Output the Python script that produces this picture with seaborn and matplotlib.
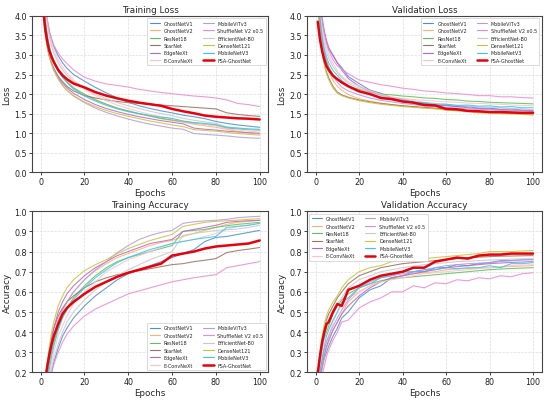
import matplotlib
matplotlib.use("Agg")
import matplotlib.pyplot as plt
import seaborn as sns
import pandas as pd

epochs = [1, 2, 3, 4, 5, 6, 8, 10, 12, 15, 20, 25, 30, 35, 40, 45, 50, 55, 60, 65, 70, 75, 80, 85, 90, 95, 100]

models = ["GhostNetV1", "GhostNetV2", "ResNet18", "StarNet", "EdgeNeXt", "E-ConvNeXt",
          "MobileViTv3", "ShuffleNet V2 x0.5", "EfficientNet-B0", "DenseNet121", "MobileNetV3", "FSA-GhostNet"]

train_loss = {
    "GhostNetV1": [4.8,4.3,3.9,3.6,3.4,3.22,2.98,2.8,2.66,2.5,2.33,2.17,2.03,1.9,1.79,1.7,1.63,1.57,1.52,1.46,1.42,1.37,1.3,1.25,1.21,1.18,1.15],
    "GhostNetV2": [4.6,3.95,3.5,3.2,3.0,2.84,2.62,2.46,2.33,2.17,2.0,1.86,1.74,1.64,1.56,1.49,1.43,1.37,1.32,1.28,1.23,1.19,1.15,1.1,1.04,1.01,0.98],
    "ResNet18": [4.5,3.9,3.45,3.15,2.95,2.8,2.58,2.43,2.3,2.15,1.99,1.85,1.74,1.64,1.57,1.5,1.44,1.38,1.34,1.3,1.26,1.23,1.2,1.13,1.11,1.09,1.08],
    "StarNet": [4.2,3.6,3.2,2.95,2.78,2.65,2.45,2.32,2.2,2.08,1.96,1.9,1.85,1.81,1.78,1.76,1.74,1.72,1.7,1.68,1.66,1.64,1.62,1.52,1.48,1.45,1.43],
    "EdgeNeXt": [4.4,3.7,3.28,3.0,2.8,2.65,2.44,2.28,2.16,2.02,1.86,1.73,1.63,1.55,1.48,1.42,1.37,1.32,1.28,1.24,1.13,1.1,1.08,1.05,1.03,1.01,1.0],
    "E-ConvNeXt": [5.0,4.4,3.9,3.55,3.32,3.14,2.88,2.7,2.54,2.36,2.13,1.96,1.83,1.72,1.63,1.55,1.48,1.42,1.37,1.31,1.27,1.23,1.19,1.11,1.08,1.05,1.03],
    "MobileViTv3": [4.4,3.7,3.25,2.98,2.78,2.62,2.4,2.22,2.1,1.95,1.78,1.64,1.53,1.44,1.36,1.29,1.23,1.18,1.13,1.1,0.99,0.97,0.95,0.93,0.9,0.88,0.87],
    "ShuffleNet V2 x0.5": [4.9,4.3,3.9,3.6,3.4,3.25,3.05,2.9,2.78,2.62,2.43,2.33,2.26,2.22,2.18,2.12,2.08,2.04,2.01,1.98,1.95,1.93,1.9,1.85,1.76,1.73,1.68],
    "EfficientNet-B0": [4.9,4.3,3.8,3.45,3.22,3.05,2.8,2.62,2.48,2.32,2.15,2.0,1.88,1.78,1.7,1.63,1.56,1.5,1.45,1.38,1.33,1.29,1.25,1.16,1.13,1.1,1.08],
    "DenseNet121": [4.3,3.6,3.2,2.95,2.75,2.6,2.38,2.22,2.1,1.96,1.8,1.68,1.58,1.5,1.43,1.37,1.31,1.26,1.21,1.17,1.09,1.07,1.05,1.02,0.99,0.97,0.95],
    "MobileNetV3": [4.6,3.95,3.5,3.2,3.0,2.84,2.6,2.43,2.3,2.13,1.95,1.82,1.71,1.62,1.55,1.5,1.45,1.41,1.38,1.31,1.27,1.25,1.22,1.15,1.13,1.11,1.1],
    "FSA-GhostNet": [4.3,3.7,3.35,3.1,2.95,2.82,2.62,2.48,2.38,2.27,2.17,2.05,1.96,1.89,1.83,1.78,1.74,1.70,1.62,1.56,1.51,1.45,1.42,1.40,1.38,1.37,1.35],
}

val_loss = {
    "GhostNetV1": [4.9,4.3,3.85,3.55,3.32,3.15,3.0,2.8,2.68,2.45,2.27,2.1,2.02,1.9,1.87,1.8,1.77,1.72,1.72,1.68,1.68,1.64,1.64,1.61,1.62,1.59,1.58],
    "GhostNetV2": [4.5,3.8,3.3,2.98,2.75,2.58,2.35,2.2,2.1,1.99,1.88,1.82,1.77,1.73,1.7,1.67,1.65,1.63,1.6,1.58,1.56,1.54,1.53,1.52,1.51,1.5,1.5],
    "ResNet18": [4.6,3.9,3.4,3.08,2.85,2.7,2.5,2.38,2.28,2.2,2.12,2.05,2.0,1.98,1.95,1.93,1.9,1.89,1.86,1.85,1.82,1.81,1.79,1.78,1.77,1.76,1.75],
    "StarNet": [4.4,3.6,3.1,2.8,2.57,2.42,2.2,2.05,1.98,1.92,1.85,1.8,1.76,1.73,1.7,1.68,1.66,1.64,1.62,1.59,1.57,1.55,1.53,1.52,1.51,1.5,1.49],
    "EdgeNeXt": [5.0,4.4,3.95,3.62,3.38,3.2,2.98,2.8,2.62,2.4,2.2,2.07,1.97,1.9,1.83,1.78,1.75,1.72,1.7,1.68,1.65,1.63,1.62,1.6,1.59,1.58,1.57],
    "E-ConvNeXt": [4.8,4.2,3.75,3.42,3.2,3.02,2.78,2.6,2.45,2.32,2.2,2.08,1.99,1.93,1.89,1.86,1.84,1.82,1.8,1.79,1.77,1.76,1.75,1.74,1.72,1.71,1.7],
    "MobileViTv3": [4.5,3.85,3.38,3.06,2.85,2.68,2.45,2.3,2.18,2.08,1.98,1.9,1.84,1.8,1.76,1.73,1.7,1.68,1.66,1.64,1.62,1.61,1.6,1.59,1.58,1.57,1.56],
    "ShuffleNet V2 x0.5": [5.0,4.4,3.9,3.55,3.32,3.12,2.88,2.72,2.64,2.52,2.36,2.3,2.24,2.2,2.15,2.12,2.08,2.06,2.03,2.01,1.99,1.96,1.96,1.93,1.93,1.91,1.9],
    "EfficientNet-B0": [4.7,4.1,3.6,3.3,3.08,2.92,2.7,2.55,2.42,2.28,2.15,2.04,1.96,1.91,1.87,1.83,1.79,1.76,1.74,1.71,1.69,1.67,1.66,1.65,1.63,1.62,1.6],
    "DenseNet121": [4.3,3.55,3.05,2.75,2.52,2.37,2.15,2.02,1.96,1.9,1.83,1.78,1.74,1.71,1.68,1.66,1.64,1.62,1.59,1.57,1.55,1.52,1.51,1.5,1.49,1.48,1.46],
    "MobileNetV3": [4.6,3.95,3.45,3.15,2.95,2.8,2.6,2.48,2.35,2.22,2.08,1.98,1.93,1.86,1.84,1.79,1.78,1.74,1.74,1.71,1.72,1.69,1.7,1.67,1.68,1.65,1.65],
    "FSA-GhostNet": [3.85,3.4,3.1,2.88,2.72,2.62,2.47,2.38,2.3,2.2,2.07,2.0,1.9,1.87,1.81,1.78,1.72,1.71,1.62,1.61,1.57,1.56,1.54,1.54,1.53,1.52,1.52],
}

train_acc = {
    "GhostNetV1": [0.0,0.05,0.1,0.15,0.2,0.25,0.32,0.38,0.42,0.47,0.53,0.58,0.62,0.66,0.69,0.71,0.73,0.75,0.77,0.79,0.81,0.85,0.87,0.875,0.885,0.895,0.905],
    "GhostNetV2": [0.03,0.12,0.2,0.28,0.34,0.39,0.46,0.51,0.55,0.6,0.66,0.705,0.74,0.77,0.79,0.81,0.83,0.845,0.855,0.875,0.89,0.905,0.92,0.935,0.945,0.95,0.955],
    "ResNet18": [0.02,0.1,0.18,0.25,0.3,0.35,0.42,0.48,0.52,0.57,0.63,0.68,0.72,0.75,0.77,0.785,0.8,0.815,0.83,0.9,0.905,0.91,0.92,0.928,0.935,0.94,0.945],
    "StarNet": [0.05,0.15,0.24,0.31,0.37,0.42,0.48,0.52,0.55,0.58,0.62,0.65,0.67,0.685,0.695,0.705,0.715,0.725,0.735,0.74,0.75,0.757,0.765,0.795,0.805,0.812,0.82],
    "EdgeNeXt": [0.05,0.14,0.23,0.31,0.37,0.42,0.5,0.55,0.59,0.63,0.68,0.72,0.75,0.78,0.8,0.82,0.84,0.85,0.86,0.9,0.91,0.92,0.93,0.945,0.95,0.953,0.955],
    "E-ConvNeXt": [0.01,0.07,0.13,0.19,0.25,0.3,0.38,0.43,0.48,0.54,0.6,0.65,0.7,0.73,0.76,0.78,0.8,0.82,0.84,0.85,0.86,0.875,0.89,0.91,0.925,0.933,0.94],
    "MobileViTv3": [0.02,0.1,0.19,0.27,0.33,0.38,0.45,0.51,0.55,0.6,0.66,0.71,0.75,0.795,0.83,0.86,0.88,0.895,0.905,0.94,0.948,0.952,0.955,0.96,0.968,0.972,0.975],
    "ShuffleNet V2 x0.5": [0.0,0.04,0.09,0.14,0.2,0.24,0.3,0.35,0.39,0.43,0.48,0.515,0.54,0.565,0.59,0.605,0.62,0.635,0.65,0.66,0.67,0.678,0.685,0.72,0.73,0.74,0.75],
    "EfficientNet-B0": [0.0,0.05,0.11,0.17,0.22,0.27,0.34,0.4,0.45,0.5,0.56,0.61,0.65,0.68,0.71,0.735,0.76,0.78,0.8,0.88,0.89,0.897,0.905,0.908,0.912,0.92,0.93],
    "DenseNet121": [0.05,0.15,0.25,0.33,0.4,0.45,0.53,0.58,0.62,0.66,0.705,0.735,0.76,0.79,0.815,0.835,0.855,0.87,0.885,0.925,0.935,0.945,0.95,0.953,0.956,0.96,0.963],
    "MobileNetV3": [0.02,0.08,0.15,0.22,0.28,0.33,0.41,0.47,0.51,0.56,0.62,0.67,0.71,0.745,0.77,0.79,0.81,0.825,0.84,0.85,0.86,0.868,0.875,0.92,0.925,0.93,0.94],
    "FSA-GhostNet": [0.08,0.16,0.23,0.29,0.34,0.38,0.44,0.49,0.52,0.55,0.59,0.625,0.65,0.675,0.695,0.71,0.725,0.74,0.78,0.79,0.8,0.815,0.825,0.83,0.835,0.84,0.855],
}

val_acc = {
    "GhostNetV1": [0.1,0.16,0.22,0.27,0.3,0.33,0.38,0.42,0.47,0.5,0.57,0.61,0.63,0.67,0.68,0.7,0.7,0.72,0.72,0.735,0.73,0.74,0.745,0.755,0.755,0.76,0.76],
    "GhostNetV2": [0.1,0.17,0.23,0.28,0.32,0.35,0.41,0.45,0.49,0.55,0.6,0.63,0.65,0.67,0.68,0.69,0.695,0.7,0.71,0.713,0.716,0.718,0.72,0.723,0.726,0.728,0.73],
    "ResNet18": [0.15,0.25,0.32,0.37,0.4,0.43,0.49,0.53,0.56,0.59,0.62,0.64,0.655,0.665,0.67,0.675,0.68,0.685,0.69,0.695,0.7,0.705,0.71,0.713,0.716,0.718,0.72],
    "StarNet": [0.17,0.28,0.36,0.42,0.46,0.49,0.53,0.57,0.6,0.64,0.68,0.7,0.72,0.73,0.74,0.745,0.75,0.755,0.76,0.765,0.77,0.772,0.775,0.777,0.778,0.779,0.78],
    "EdgeNeXt": [0.1,0.17,0.24,0.29,0.33,0.36,0.41,0.45,0.49,0.53,0.58,0.62,0.65,0.67,0.68,0.69,0.7,0.71,0.72,0.725,0.73,0.735,0.74,0.743,0.746,0.748,0.75],
    "E-ConvNeXt": [0.12,0.2,0.26,0.31,0.35,0.38,0.45,0.5,0.53,0.57,0.6,0.63,0.65,0.66,0.67,0.68,0.69,0.695,0.7,0.705,0.71,0.715,0.72,0.725,0.73,0.733,0.735],
    "MobileViTv3": [0.12,0.2,0.26,0.31,0.35,0.38,0.43,0.47,0.51,0.56,0.62,0.65,0.67,0.68,0.69,0.7,0.71,0.72,0.73,0.735,0.74,0.742,0.745,0.75,0.755,0.758,0.76],
    "ShuffleNet V2 x0.5": [0.08,0.14,0.19,0.23,0.28,0.31,0.36,0.4,0.45,0.46,0.52,0.55,0.57,0.6,0.6,0.63,0.62,0.645,0.64,0.66,0.655,0.67,0.665,0.68,0.675,0.69,0.695],
    "EfficientNet-B0": [0.15,0.25,0.32,0.38,0.42,0.45,0.5,0.54,0.57,0.62,0.66,0.68,0.7,0.71,0.72,0.728,0.735,0.74,0.745,0.75,0.752,0.755,0.758,0.76,0.762,0.764,0.765],
    "DenseNet121": [0.18,0.3,0.38,0.44,0.48,0.51,0.55,0.58,0.62,0.66,0.7,0.72,0.73,0.75,0.76,0.762,0.765,0.77,0.775,0.78,0.785,0.79,0.8,0.8,0.8,0.803,0.805],
    "MobileNetV3": [0.12,0.2,0.27,0.33,0.38,0.41,0.46,0.5,0.55,0.57,0.62,0.64,0.67,0.68,0.7,0.7,0.71,0.71,0.72,0.715,0.72,0.72,0.73,0.72,0.74,0.74,0.745],
    "FSA-GhostNet": [0.2,0.28,0.35,0.4,0.44,0.45,0.5,0.54,0.53,0.61,0.63,0.66,0.68,0.69,0.7,0.72,0.72,0.75,0.76,0.77,0.765,0.78,0.785,0.785,0.79,0.79,0.79],
}

colors = {
    "GhostNetV1": "#4a8fcf", "GhostNetV2": "#ffb070", "ResNet18": "#5cc25c", "StarNet": "#9a7060",
    "EdgeNeXt": "#bb66c8", "E-ConvNeXt": "#ffc0cb", "MobileViTv3": "#b49ae0",
    "ShuffleNet V2 x0.5": "#ee88d4", "EfficientNet-B0": "#c8c8c8", "DenseNet121": "#c8c43a",
    "MobileNetV3": "#33c8ee", "FSA-GhostNet": "#e8000b",
}

sns.set_theme(style="whitegrid", rc={
    "grid.linestyle": "--", "grid.color": "#dddddd", "grid.linewidth": 0.5,
    "axes.edgecolor": "#444444", "axes.linewidth": 0.8,
    "xtick.bottom": True, "ytick.left": True,
    "xtick.major.size": 2.0, "ytick.major.size": 2.0,
    "xtick.major.width": 0.6, "ytick.major.width": 0.6,
    "xtick.color": "#222222", "ytick.color": "#222222",
})
plt.rcParams["font.family"] = ["DejaVu Sans"]

fig = plt.figure(figsize=(5.5, 4.02), dpi=100)
positions = [
    [0.058, 0.569, 0.430, 0.389],
    [0.558, 0.569, 0.427, 0.389],
    [0.058, 0.071, 0.430, 0.401],
    [0.558, 0.071, 0.427, 0.401],
]
panels = [
    ("Training Loss", train_loss, "Loss", (0, 4), [0, 0.5, 1.0, 1.5, 2.0, 2.5, 3.0, 3.5, 4.0], "upper right"),
    ("Validation Loss", val_loss, "Loss", (0, 4), [0, 0.5, 1.0, 1.5, 2.0, 2.5, 3.0, 3.5, 4.0], "upper right"),
    ("Training Accuracy", train_acc, "Accuracy", (0.2, 1.0), [0.2, 0.3, 0.4, 0.5, 0.6, 0.7, 0.8, 0.9, 1.0], "lower right"),
    ("Validation Accuracy", val_acc, "Accuracy", (0.2, 1.0), [0.2, 0.3, 0.4, 0.5, 0.6, 0.7, 0.8, 0.9, 1.0], "upper left"),
]

for pos, (title, data, ylab, ylim, yt, loc) in zip(positions, panels):
    ax = fig.add_axes(pos)
    for m in models:
        df = pd.DataFrame({"Epochs": epochs, "v": data[m]})
        red = m == "FSA-GhostNet"
        sns.lineplot(data=df, x="Epochs", y="v", ax=ax, color=colors[m],
                     linewidth=1.8 if red else 0.8, alpha=1.0 if red else 0.85,
                     label=m, zorder=5 if red else 2)
    ax.set_xlim(-4, 104)
    ax.set_ylim(*ylim)
    ax.set_yticks(yt)
    ax.set_yticklabels([f"{v:.1f}" for v in yt])
    ax.set_xticks([0, 20, 40, 60, 80, 100])
    ax.tick_params(labelsize=5.8, pad=1.5)
    ax.set_title(title, fontsize=6.3, pad=3)
    ax.set_xlabel("Epochs", fontsize=6.3, labelpad=1)
    ax.set_ylabel(ylab, fontsize=6.3, labelpad=2)
    leg = ax.legend(loc=loc, ncol=2, fontsize=3.5, frameon=True, handlelength=2.1,
                    columnspacing=2.0, labelspacing=0.5, borderpad=0.5, handletextpad=0.8,
                    fancybox=False, edgecolor="#cccccc", framealpha=1.0, borderaxespad=0.5)
    leg.get_frame().set_linewidth(0.5)
    for h in leg.get_lines():
        h.set_alpha(1.0)

fig.savefig("out.png", dpi=100)
